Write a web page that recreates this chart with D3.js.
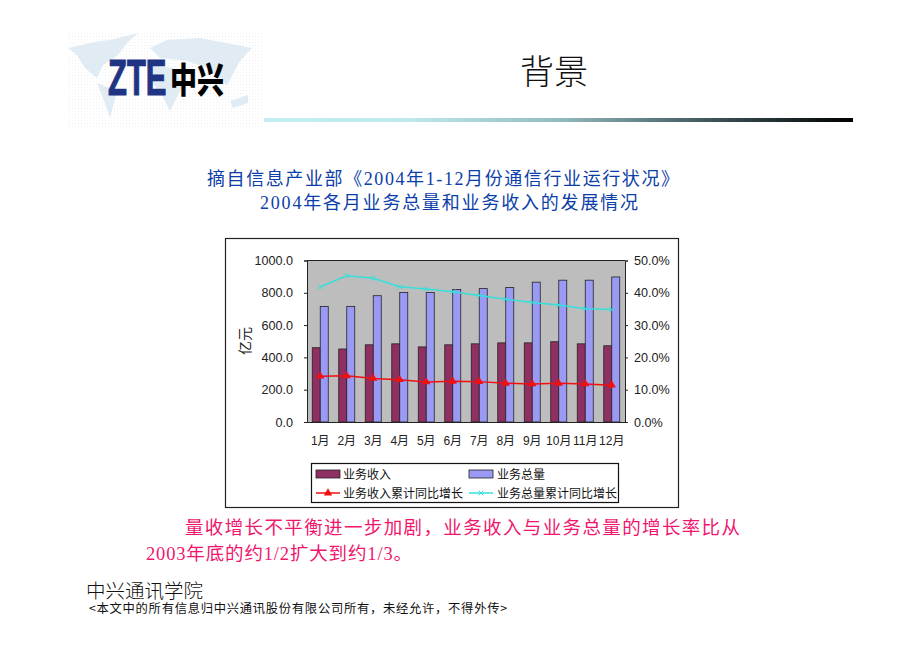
<!DOCTYPE html>
<html><head><meta charset="utf-8">
<script src="https://cdn.jsdelivr.net/npm/d3@7/dist/d3.min.js"></script>
<style>html,body{margin:0;padding:0;background:#fff;overflow:hidden}svg{display:block}</style>
</head><body><svg id="c" width="920" height="650"></svg>
<script>
const months=["1月","2月","3月","4月","5月","6月","7月","8月","9月","10月","11月","12月"];
const revenue=[460,452,478,484,465,478,484,490,490,497,484,472];
const total=[716,716,782,802,802,820,826,833,866,878,878,898];
const revenueGrowth=[14.2,14.3,13.5,13.1,12.4,12.6,12.5,12.0,11.8,12.0,11.8,11.4];
const totalGrowth=[41.8,45.3,44.5,41.9,41.2,40.3,39.2,38.0,37.0,36.2,35.1,34.8];
const leftTicks=[0,200,400,600,800,1000];
const rightTicks=[0,10,20,30,40,50];
const legendLabels=["业务收入","业务总量","业务收入累计同比增长","业务总量累计同比增长"];

const CJK='"Noto Sans CJK SC","Noto Sans",sans-serif';
const SERIF='"Liberation Serif","Noto Sans CJK SC",serif';
const svg=d3.select("#c");
const defs=svg.append("defs");
const g=defs.append("linearGradient").attr("id","rule");
[[0,"#c4eef2"],[0.25,"#c0e8ec"],[0.5,"#94bcc0"],[0.75,"#40585c"],[1,"#000"]].forEach(s=>g.append("stop").attr("offset",s[0]).attr("stop-color",s[1]));
const dots=defs.append("pattern").attr("id","dots").attr("width",3).attr("height",3).attr("patternUnits","userSpaceOnUse");
dots.append("rect").attr("width",1).attr("height",1).attr("fill","#eef0f3");

// logo
const logo=svg.append("g");
logo.append("rect").attr("x",67).attr("y",33).attr("width",197).attr("height",96).attr("fill","url(#dots)");
const land=["M68,48 L100,41 L110,40 L138,33 L127,43 L118,55 L103,65 L97,78 L85,68 L77,55 Z",
"M97,83 L117,91 L110,118 L103,98 Z",
"M150,48 L167,40 L200,38 L252,48 L240,61 L227,85 L207,68 L187,61 L160,58 Z",
"M150,65 L173,68 L183,85 L170,111 L162,95 L150,80 Z",
"M230,101 L248,95 L248,103 L233,108 Z"];
logo.selectAll("path.l").data(land).join("path").attr("d",d=>d).attr("fill","#e0ebf3");
logo.append("text").attr("transform","translate(108,95) scale(.62,1)").attr("font-family",'"Liberation Sans",sans-serif').attr("font-weight",700).attr("font-size",50).attr("fill","#1f3583").attr("stroke","#1f3583").attr("stroke-width",1.2).text("ZTE");
logo.append("text").attr("transform","translate(170,92.5) scale(1,1.32)").attr("font-family",CJK).attr("font-weight",900).attr("font-size",27).attr("fill","#000").text("中兴");

svg.append("text").attr("x",554).attr("y",84).attr("text-anchor","middle").attr("font-family",CJK).attr("font-weight",300).attr("font-size",34).attr("fill","#111").text("背景");
svg.append("rect").attr("x",264).attr("y",118).attr("width",589).attr("height",4).attr("fill","url(#rule)");

function t(x,y,str,size,fill,fam){return svg.append("text").attr("x",x).attr("y",y).attr("font-family",fam||SERIF).attr("font-size",size).attr("fill",fill).text(str);}
t(207,185,"摘自信息产业部《2004年1-12月份通信行业运行状况》",18,"#0b3ea8").attr("textLength",472);
t(260,209,"2004年各月业务总量和业务收入的发展情况",18,"#0b3ea8").attr("textLength",378);
t(185,534,"量收增长不平衡进一步加剧，业务收入与业务总量的增长率比从",18.5,"#f0166e").attr("textLength",555);
t(146,560,"2003年底的约1/2扩大到约1/3。",18.5,"#f0166e").attr("textLength",266);
t(86,598,"中兴通讯学院",19.5,"#111",CJK).attr("font-weight",300);
t(89,613,"<本文中的所有信息归中兴通讯股份有限公司所有，未经允许，不得外传>",12.3,"#111",CJK).attr("textLength",418);

// chart frame
svg.append("rect").attr("x",225.5).attr("y",238.5).attr("width",453).attr("height",269).attr("fill","#fff").attr("stroke","#222").attr("stroke-width",1.2);

const x0=d3.scaleBand().domain(months).range([307,625]).paddingInner(0).paddingOuter(0);
const y=d3.scaleLinear().domain([0,1000]).range([422,260.5]);
const yR=d3.scaleLinear().domain([0,50]).range([422,260.5]);
const plot=svg.append("g");
plot.append("rect").attr("x",307).attr("y",260.5).attr("width",318).attr("height",161.5).attr("fill","#bdbdbd");

const bw=8;
const cx=m=>x0(m)+x0.bandwidth()/2;
plot.selectAll("rect.r").data(months).join("rect").attr("x",m=>cx(m)-bw).attr("width",bw)
 .attr("y",(m,i)=>y(revenue[i])).attr("height",(m,i)=>y(0)-y(revenue[i])).attr("fill","#8f2f62").attr("stroke","#222").attr("stroke-width",.8);
plot.selectAll("rect.t").data(months).join("rect").attr("x",m=>cx(m)).attr("width",bw)
 .attr("y",(m,i)=>y(total[i])).attr("height",(m,i)=>y(0)-y(total[i])).attr("fill","#9a9af5").attr("stroke","#222").attr("stroke-width",.8);

const ln=d3.line().x((d,i)=>cx(months[i])).y(d=>yR(d));
plot.append("path").attr("d",ln(totalGrowth)).attr("fill","none").attr("stroke","#33e0dc").attr("stroke-width",1.5);
plot.selectAll("path.tm").data(totalGrowth).join("path").attr("transform",(d,i)=>`translate(${cx(months[i])},${yR(d)})`)
 .attr("d",d3.symbol(d3.symbolTimes,16)).attr("fill","none").attr("stroke","#33e0dc").attr("stroke-width",1);
plot.append("path").attr("d",ln(revenueGrowth)).attr("fill","none").attr("stroke","#f01010").attr("stroke-width",1.5);
plot.selectAll("path.rm").data(revenueGrowth).join("path").attr("transform",(d,i)=>`translate(${cx(months[i])},${yR(d)})`)
 .attr("d",d3.symbol(d3.symbolTriangle,30)).attr("fill","#f01010");

const fs=13, axc="#222";
const axL=svg.append("g").attr("transform","translate(307,0)").call(d3.axisLeft(y).tickValues(leftTicks).tickFormat(d3.format(".1f")).tickSize(3).tickPadding(11));
const axR=svg.append("g").attr("transform","translate(625,0)").call(d3.axisRight(yR).tickValues(rightTicks).tickFormat(d=>d.toFixed(1)+"%").tickSize(3).tickPadding(6));
const axB=svg.append("g").attr("transform","translate(0,422)").call(d3.axisBottom(x0).tickSize(0).tickPadding(14));
svg.append("line").attr("x1",307).attr("x2",625).attr("y1",260.5).attr("y2",260.5).attr("stroke",axc);
[axL,axR,axB].forEach(a=>{a.selectAll("text").attr("font-family",'"Liberation Sans","Noto Sans CJK SC",sans-serif').attr("font-size",fs).attr("fill","#222");a.selectAll("path,line").attr("stroke",axc);});
axL.selectAll("text").attr("font-size",12.6);
axR.selectAll("text").attr("font-size",12.6);
axB.selectAll("text").attr("font-size",12);

svg.append("text").attr("transform","translate(250,341) rotate(-90)").attr("text-anchor","middle").attr("font-family",CJK).attr("font-size",14).attr("fill","#222").text("亿元");

// legend
const lg=svg.append("g");
lg.append("rect").attr("x",311.5).attr("y",463.5).attr("width",307).attr("height",39).attr("fill","#fff").attr("stroke","#111").attr("stroke-width",1.2);
const lx=[316,469], ly=[474,493], tx=[343,497];
function lt(x,y,s){lg.append("text").attr("x",x).attr("y",y+4.5).attr("font-family",CJK).attr("font-size",12).attr("fill","#111").text(s);}
lg.append("rect").attr("x",lx[0]).attr("y",ly[0]-4).attr("width",24).attr("height",8).attr("fill","#8f2f62").attr("stroke","#222").attr("stroke-width",.8);
lg.append("rect").attr("x",lx[1]).attr("y",ly[0]-4).attr("width",24).attr("height",8).attr("fill","#9a9af5").attr("stroke","#222").attr("stroke-width",.8);
lg.append("line").attr("x1",lx[0]).attr("x2",lx[0]+24).attr("y1",ly[1]).attr("y2",ly[1]).attr("stroke","#f01010").attr("stroke-width",1.5);
lg.append("path").attr("transform",`translate(${lx[0]+12},${ly[1]})`).attr("d",d3.symbol(d3.symbolTriangle,30)).attr("fill","#f01010");
lg.append("line").attr("x1",lx[1]).attr("x2",lx[1]+24).attr("y1",ly[1]).attr("y2",ly[1]).attr("stroke","#33e0dc").attr("stroke-width",1.5);
lg.append("path").attr("transform",`translate(${lx[1]+12},${ly[1]})`).attr("d",d3.symbol(d3.symbolTimes,16)).attr("fill","none").attr("stroke","#33e0dc");
lt(tx[0],ly[0],legendLabels[0]);lt(tx[1],ly[0],legendLabels[1]);lt(tx[0],ly[1],legendLabels[2]);lt(tx[1],ly[1],legendLabels[3]);
</script></body></html>
